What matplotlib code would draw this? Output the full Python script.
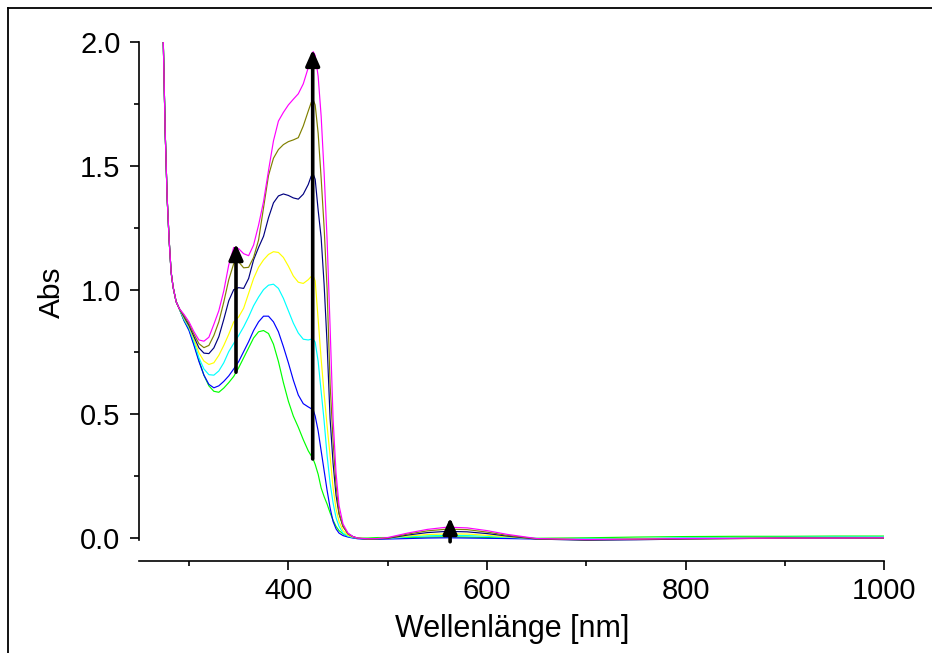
import matplotlib
matplotlib.use('Agg')
import matplotlib.pyplot as plt
from matplotlib.lines import Line2D
from matplotlib.ticker import FixedLocator, FormatStrFormatter

plt.rcParams['font.family'] = ['Liberation Sans', 'DejaVu Sans']

# ---- data ----
wl_edge = [272, 274, 276, 278, 280, 282, 284, 287, 290]
abs_edge = [2.40, 2.02, 1.64, 1.37, 1.20, 1.07, 1.01, 0.952, 0.925]

wl = [295, 300, 305, 310, 315, 320, 325, 330, 335, 340,
      345, 350, 355, 360, 365, 370, 375, 380, 385, 390,
      395, 400, 405, 410, 415, 420, 423, 425, 427, 430,
      433, 436, 439, 442, 445, 448, 451, 455, 460, 465,
      470, 480, 490, 500, 520, 540, 560, 580, 600, 620,
      650, 700, 750, 800, 850, 900, 950, 1000]

green = [0.875, 0.840, 0.780, 0.715, 0.655, 0.612, 0.590, 0.586, 0.603, 0.625,
         0.650, 0.685, 0.725, 0.765, 0.805, 0.830, 0.835, 0.823, 0.780, 0.710,
         0.625, 0.550, 0.490, 0.445, 0.395, 0.350, 0.330, 0.316, 0.295, 0.255,
         0.200, 0.165, 0.135, 0.100, 0.070, 0.045, 0.028, 0.015, 0.005, 0.000,
         -0.002, -0.002, 0.000, 0.000, 0.000, 0.002, 0.003, 0.002, 0.000, -0.002,
         -0.003, -0.001, 0.002, 0.004, 0.005, 0.005, 0.006, 0.006]

blue = [0.875, 0.835, 0.775, 0.710, 0.655, 0.618, 0.604, 0.612, 0.630, 0.652,
        0.680, 0.710, 0.750, 0.790, 0.835, 0.870, 0.893, 0.893, 0.870, 0.830,
        0.770, 0.705, 0.635, 0.575, 0.540, 0.527, 0.520, 0.515, 0.490, 0.430,
        0.350, 0.270, 0.190, 0.120, 0.065, 0.035, 0.018, 0.008, 0.002, -0.002,
        -0.005, -0.007, -0.007, -0.006, -0.004, -0.002, -0.001, -0.002, -0.003, -0.004,
        -0.006, -0.007, -0.005, -0.003, -0.002, -0.001, 0.000, 0.000]

cyan = [0.880, 0.845, 0.790, 0.725, 0.680, 0.657, 0.655, 0.672, 0.705, 0.750,
        0.783, 0.815, 0.850, 0.890, 0.935, 0.970, 1.000, 1.018, 1.022, 1.005,
        0.965, 0.915, 0.865, 0.825, 0.800, 0.797, 0.800, 0.800, 0.788, 0.710,
        0.590, 0.470, 0.330, 0.220, 0.140, 0.080, 0.045, 0.018, 0.005, 0.000,
        -0.003, -0.006, -0.005, -0.003, 0.003, 0.007, 0.009, 0.008, 0.005, 0.001,
        -0.004, -0.006, -0.004, -0.002, 0.000, 0.001, 0.002, 0.002]

yellow = [0.885, 0.850, 0.800, 0.745, 0.712, 0.698, 0.705, 0.735, 0.775, 0.820,
          0.870, 0.890, 0.925, 0.985, 1.045, 1.090, 1.120, 1.142, 1.153, 1.150,
          1.130, 1.095, 1.055, 1.030, 1.025, 1.040, 1.053, 1.055, 1.035, 0.880,
          0.720, 0.580, 0.450, 0.330, 0.200, 0.115, 0.065, 0.028, 0.009, 0.002,
          -0.002, -0.005, -0.004, -0.002, 0.006, 0.012, 0.015, 0.014, 0.009, 0.003,
          -0.005, -0.008, -0.006, -0.004, -0.003, -0.001, -0.001, 0.000]

navy = [0.890, 0.855, 0.810, 0.765, 0.744, 0.742, 0.765, 0.810, 0.880, 0.955,
        1.000, 1.008, 1.005, 1.045, 1.120, 1.170, 1.215, 1.290, 1.350, 1.378,
        1.386, 1.380, 1.370, 1.365, 1.385, 1.424, 1.458, 1.466, 1.445, 1.320,
        1.210, 1.020, 0.780, 0.480, 0.300, 0.170, 0.095, 0.045, 0.016, 0.004,
        -0.003, -0.006, -0.005, -0.003, 0.010, 0.020, 0.025, 0.023, 0.016, 0.006,
        -0.006, -0.011, -0.009, -0.006, -0.004, -0.002, -0.002, -0.002]

olive = [0.895, 0.862, 0.820, 0.782, 0.766, 0.775, 0.815, 0.870, 0.950, 1.040,
         1.105, 1.112, 1.088, 1.090, 1.130, 1.200, 1.330, 1.460, 1.530, 1.565,
         1.585, 1.597, 1.604, 1.613, 1.660, 1.720, 1.755, 1.765, 1.745, 1.630,
         1.450, 1.250, 1.000, 0.620, 0.390, 0.210, 0.100, 0.045, 0.014, 0.003,
         -0.003, -0.006, -0.005, -0.002, 0.014, 0.027, 0.034, 0.032, 0.022, 0.009,
         -0.005, -0.009, -0.007, -0.005, -0.004, -0.003, -0.002, -0.002]

magenta = [0.900, 0.870, 0.830, 0.797, 0.792, 0.808, 0.860, 0.915, 0.995, 1.100,
           1.170, 1.165, 1.145, 1.137, 1.180, 1.260, 1.355, 1.480, 1.600, 1.680,
           1.715, 1.745, 1.768, 1.790, 1.830, 1.895, 1.940, 1.960, 1.945, 1.860,
           1.700, 1.470, 1.200, 0.850, 0.480, 0.260, 0.130, 0.055, 0.018, 0.004,
           -0.002, -0.005, -0.004, 0.000, 0.018, 0.033, 0.042, 0.039, 0.028, 0.013,
           -0.004, -0.008, -0.006, -0.004, -0.003, -0.002, -0.002, -0.001]

arrow_x = [347.3, 424.5, 562.8]
arrow_base = [0.667, 0.317, -0.017]
arrow_tip = [1.185, 1.968, 0.080]

x_major = [400, 600, 800, 1000]
x_minor = [300, 500, 700, 900]
y_major = [0.0, 0.5, 1.0, 1.5, 2.0]
y_minor = [0.25, 0.75, 1.25, 1.75]

# ---- figure ----
W, H = 932, 653
fig = plt.figure(figsize=(W / 100, H / 100), dpi=100)
ax = fig.add_axes([0.1495, 0.1692, 0.7995, 0.7669])

series = [(green, '#00FF00'), (blue, '#0000FF'), (cyan, '#00FFFF'),
          (yellow, '#FFFF00'), (navy, '#000080'), (olive, '#808000'),
          (magenta, '#FF00FF')]
for vals, col in series:
    ax.plot(wl_edge + wl, abs_edge + vals, color=col, lw=0.85)

for x, y0, y1 in zip(arrow_x, arrow_base, arrow_tip):
    ax.annotate('', xy=(x, y1), xytext=(x, y0),
                arrowprops=dict(arrowstyle='-|>,head_length=0.95,head_width=0.42',
                                color='black', lw=2.6, shrinkA=0, shrinkB=0,
                                mutation_scale=10))

ax.set_xlim(250, 1000)
ax.set_ylim(-0.02, 2.0)

for s in ['top', 'right']:
    ax.spines[s].set_visible(False)
ax.spines['left'].set_bounds(-0.008, 2.0)
ax.spines['bottom'].set_position(('outward', 13))
for s in ['left', 'bottom']:
    ax.spines[s].set_linewidth(1.2)

ax.xaxis.set_major_locator(FixedLocator(x_major))
ax.xaxis.set_minor_locator(FixedLocator(x_minor))
ax.yaxis.set_major_locator(FixedLocator(y_major))
ax.yaxis.set_minor_locator(FixedLocator(y_minor))
ax.yaxis.set_major_formatter(FormatStrFormatter('%.1f'))

ax.tick_params(axis='both', which='major', direction='out', length=6.5, width=1.2,
               labelsize=21)
ax.tick_params(axis='both', which='minor', direction='out', length=3.5, width=1.2)
ax.tick_params(axis='y', which='major', pad=7)
ax.tick_params(axis='x', which='major', pad=5)

ax.set_xlabel('Wellenlänge [nm]', fontsize=22, labelpad=7)
ax.set_ylabel('Abs', fontsize=21.5, labelpad=10)

# outer frame (left and top edges visible)
fx, fy = 8 / W, 1 - 8 / H
fig.add_artist(Line2D([fx, fx], [0, fy], transform=fig.transFigure, color='black', lw=1.3))
fig.add_artist(Line2D([fx, 1], [fy, fy], transform=fig.transFigure, color='black', lw=1.3))

fig.savefig('out.png', dpi=100)
